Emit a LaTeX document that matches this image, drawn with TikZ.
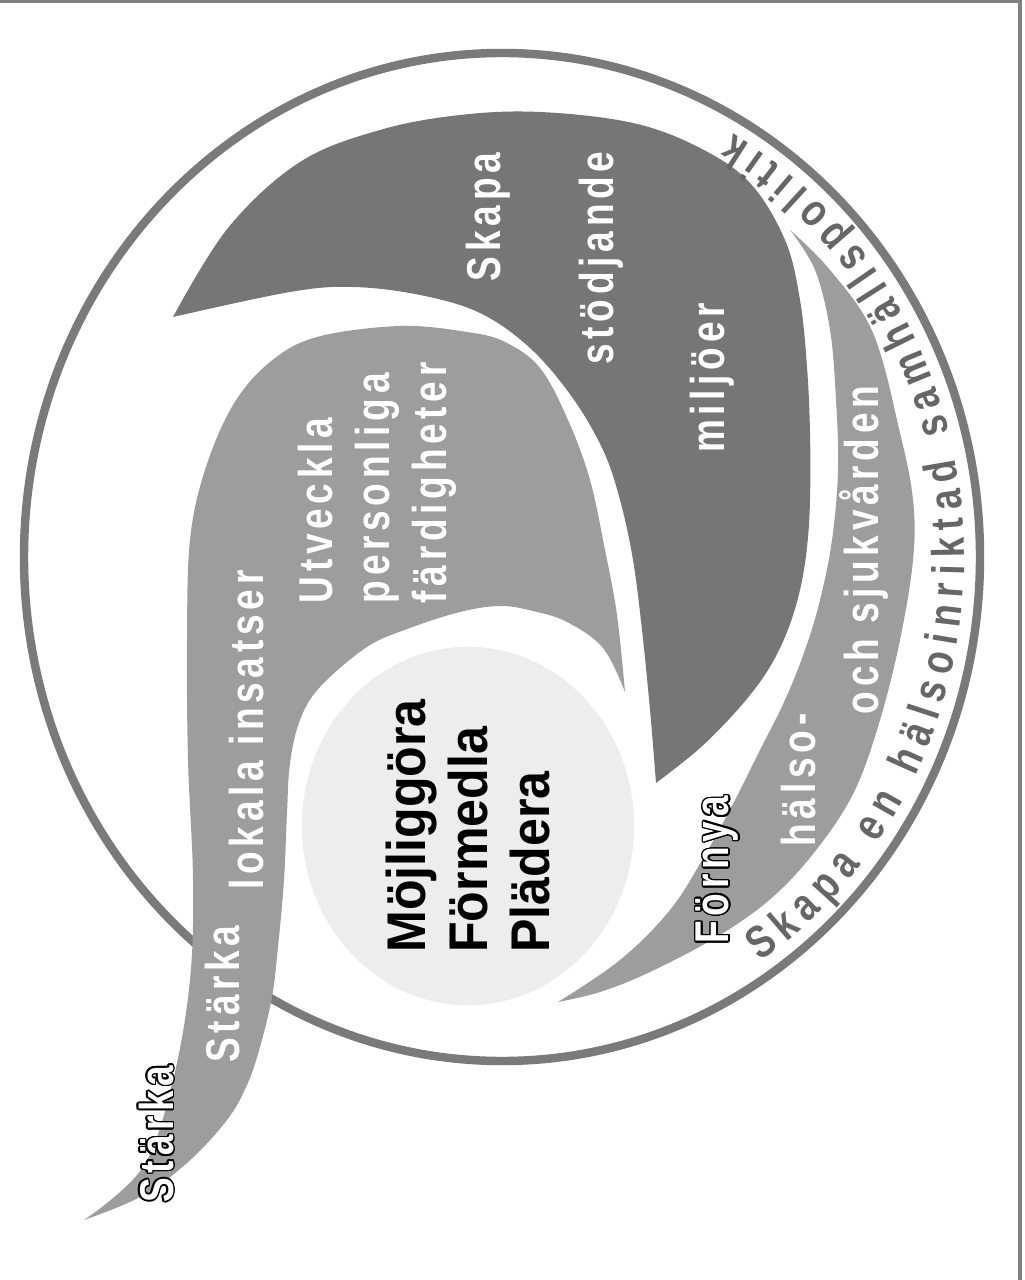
\documentclass[tikz,border=0pt]{standalone}
\usepackage{fontspec}
\usepackage{contour}
\usetikzlibrary{shapes.geometric,decorations.text}
\setmainfont{Liberation Sans}
\newfontfamily\lblfont[FakeStretch=0.78,LetterSpace=10]{Liberation Sans}
\newfontfamily\hubfont[FakeStretch=0.92]{Liberation Sans}
\newfontfamily\arcfont[FakeStretch=0.8]{Liberation Sans}
\definecolor{ringgray}{HTML}{7A7A7A}
\definecolor{skapagray}{HTML}{767676}
\definecolor{lightgray2}{HTML}{9D9D9D}
\definecolor{hubgray}{HTML}{EDEDED}
\definecolor{arcgray}{HTML}{666666}
\contourlength{0.45pt}

\begin{document}
\begin{tikzpicture}[x=0.01cm,y=-0.01cm,
		ring/.style={draw=ringgray,line width=2.4pt},
		darkfill/.style={fill=skapagray},
		lightfill/.style={fill=lightgray2},
		wtext/.style={rotate=90,inner sep=0pt,text=white,
			font=\lblfont\bfseries\fontsize{13.5}{16.2}\selectfont},
		hub/.style={ellipse,fill=hubgray,rotate=90,inner sep=0pt,
			minimum width=3.52cm,minimum height=3.32cm,align=left,
			font=\hubfont\bfseries\fontsize{15.5}{17.6}\selectfont}]
		
		\useasboundingbox (0,0) rectangle (1024,1280);
		\draw[gray,line width=1pt] (0,1) -- (1020,1) -- (1020,1280);
		
		% outer ring
		\coordinate (c) at (502,557);
		\draw[ring] (c) ellipse [x radius=478, y radius=504];
		
		% Skapa stodjande miljoer
		\fill[darkfill] plot[smooth,tension=0.6] coordinates {(173,317) (228,228) (300,162) (380,130) (460,115) (540,112) (633,123) (700,148) (750,183) (785,240) (800,300) (807,367) (810,433) (810,500) (807,547) (800,590) (787,632) (768,670) (740,707) (700,748) (656,783)}
		-- plot[smooth,tension=0.6] coordinates {(656,783) (650,710) (642,630) (633,560) (620,500) (603,450) (572,397) (530,348) (480,313) (420,295) (353,287) (290,292) (173,317)} -- cycle;
		
		% Utveckla + Starka
		\fill[lightfill] plot[smooth,tension=0.6] coordinates {(84,1220) (143,1167) (173,1080) (190,980) (193,880) (188,760) (187,640) (190,540) (205,470) (233,405) (270,362) (317,337) (400,326) (467,332) (505,342) (540,368) (568,420) (590,480) (605,550) (617,615) (625,692)}
		-- plot[smooth,tension=0.6] coordinates {(625,692) (603,648) (567,622) (533,611) (500,606) (460,612) (410,628) (367,647) (320,687) (300,720) (290,763) (287,813) (284,880) (278,947) (272,997) (260,1047) (247,1085) (227,1120) (187,1163) (140,1197) (84,1220)} -- cycle;
		
		% Fornya
		\fill[lightfill] plot[smooth,tension=0.6] coordinates {(790,230) (830,270) (873,333) (900,433) (913,500) (913,560) (900,640) (880,720) (855,790) (820,845) (775,895) (720,935) (650,972) (600,992) (558,1002)}
		-- plot[smooth,tension=0.6] coordinates {(558,1002) (620,960) (670,910) (705,855) (735,800) (760,750) (785,700) (805,650) (820,600) (832,540) (838,470) (836,400) (830,330) (815,270) (790,230)} -- cycle;
		
		\node[hub] (hub) at (468,826) {Möjliggöra\\Förmedla\\Plädera};
		
		\node[wtext] (skapa) at (488,217) {Skapa};
		\node[wtext] (stodjande) at (601,258) {stödjande};
		\node[wtext] (miljoer) at (712,378) {miljöer};
		\node[wtext,align=left,anchor=north west] (utveckla) at (297,604) {Utveckla\\personliga\\färdigheter};
		\node[wtext] (lokala) at (247,730) {lokala insatser};
		\node[wtext] (starka) at (223,994) {Stärka};
		\node[wtext] (starkaut) at (157,1134) {\contour{black}{Stärka}};
		\node[wtext] (halso) at (799,780) {hälso-};
		\node[wtext] (sjukvard) at (864,550) {och sjukvården};
		\node[wtext] (fornya) at (718,870) {\contour{black}{Förnya}};
		
		\path[decorate,decoration={text along path,text align={fit to path},
			text={|\arcfont\bfseries\fontsize{13}{13}\selectfont\color{arcgray}|Skapa en hälsoinriktad samhällspolitik}}]
		(c) ++(-56:4.62cm and 4.88cm) arc[start angle=-56, end angle=60, x radius=4.62cm, y radius=4.88cm];
	\end{tikzpicture}
\end{document}
